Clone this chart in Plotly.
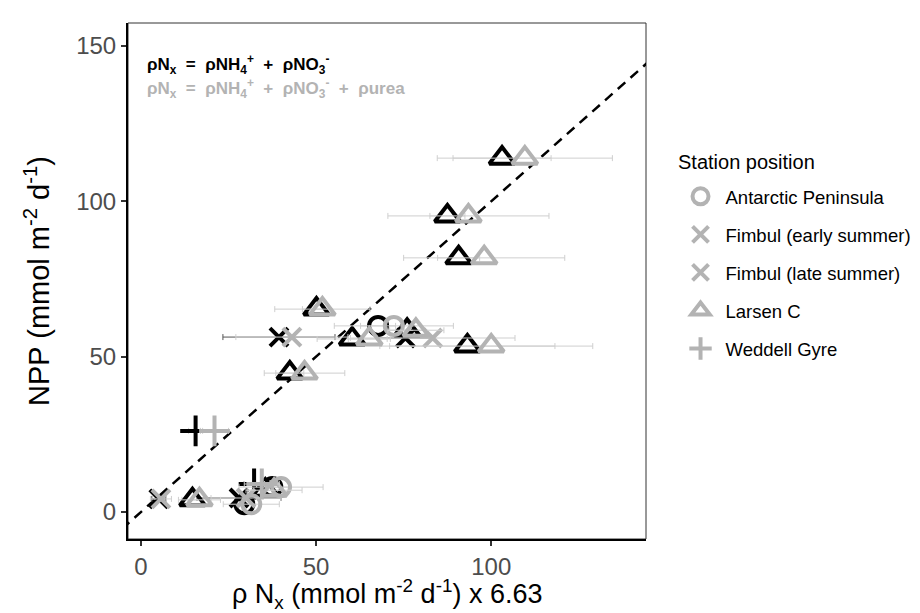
import plotly.graph_objects as go

# ---- data ----
station = ["Larsen C", "Larsen C", "Larsen C", "Larsen C", "Fimbul (early summer)",
           "Larsen C", "Antarctic Peninsula", "Larsen C", "Fimbul (late summer)", "Larsen C",
           "Larsen C", "Weddell Gyre", "Fimbul (early summer)", "Larsen C", "Fimbul (late summer)",
           "Antarctic Peninsula", "Weddell Gyre", "Larsen C", "Antarctic Peninsula"]
npp = [113.9, 95.3, 81.8, 65.3, 56.3, 55.7, 59.9, 58.5, 56.0, 53.4,
       44.7, 26.1, 4.2, 3.9, 4.5, 2.5, 9.0, 7.0, 8.0]
rho_nx = [103.1, 87.5, 90.7, 50.1, 39.4, 60.3, 67.7, 76.0, 75.5, 93.2,
          42.5, 15.6, 5.1, 14.7, 28.0, 29.5, 32.3, 35.5, 37.5]
rho_nx_err = [14, 5, 6, 4, 16, 10, 5, 5, 8, 25,
              4, 2, 2, 3, 12, 3, 3, 5, 5]
rho_nx_urea = [109.6, 93.5, 98.0, 51.8, 43.1, 65.2, 72.2, 78.5, 83.3, 100.0,
               46.7, 21.0, 5.7, 16.7, 30.0, 31.5, 34.5, 38.0, 40.0]
rho_nx_urea_err = [25, 23, 23, 13.6, 16, 6, 17, 8, 23.5, 29,
                   11.5, 4, 3, 6, 10, 8, 5, 8, 12]
stations_order = ["Antarctic Peninsula", "Fimbul (early summer)", "Fimbul (late summer)",
                  "Larsen C", "Weddell Gyre"]
one_to_one = [-20, 200]

symbols = {"Antarctic Peninsula": "circle-open",
           "Fimbul (early summer)": "x-thin-open",
           "Fimbul (late summer)": "x-thin-open",
           "Larsen C": "triangle-up-open",
           "Weddell Gyre": "cross-thin-open"}
sizes = {"Antarctic Peninsula": 18, "Fimbul (early summer)": 18,
         "Fimbul (late summer)": 18, "Larsen C": 22, "Weddell Gyre": 22}

BLACK = "#000000"
GREY = "#b3b3b3"
ERR = "#cfcfcf"
ERR_DARK = "#555555"

fig = go.Figure()

# 1:1 line
fig.add_trace(go.Scatter(x=one_to_one, y=one_to_one, mode="lines",
                         line=dict(color="black", width=2.5, dash="10px,7px"),
                         showlegend=False, hoverinfo="skip"))

def add_series(xv, ev, color, show, dark_fimbul):
    for s in stations_order:
        idx = [i for i, st in enumerate(station) if st == s]
        ecol = ERR_DARK if (dark_fimbul and s.startswith("Fimbul")) else ERR
        fig.add_trace(go.Scatter(
            x=[xv[i] for i in idx], y=[npp[i] for i in idx], mode="markers",
            name=s, legendgroup=s, showlegend=show,
            error_x=dict(type="data", array=[ev[i] for i in idx], color=ecol,
                         thickness=1, width=3),
            marker=dict(symbol=symbols[s], size=sizes[s], color=color,
                        line=dict(color=color, width=4))))

add_series(rho_nx, rho_nx_err, BLACK, False, True)
add_series(rho_nx_urea, rho_nx_urea_err, GREY, True, False)

FONT = "Liberation Sans, Arial, sans-serif"
SP = "&nbsp;&nbsp;"

line1 = f"<b>ρN<sub>x</sub>{SP}={SP}ρNH<sub>4</sub><sup>+</sup>{SP}+{SP}ρNO<sub>3</sub><sup>-</sup></b>"
line2 = (f"<b>ρN<sub>x</sub>{SP}={SP}ρNH<sub>4</sub><sup>+</sup>{SP}+{SP}ρNO<sub>3</sub><sup>-</sup>"
         f"{SP}+{SP}ρurea</b>")

fig.update_layout(
    width=920, height=613,
    margin=dict(l=120, r=278, t=15, b=82),
    plot_bgcolor="white", paper_bgcolor="white",
    font=dict(family=FONT, color="black"),
    xaxis=dict(range=[-3.7, 144.2], tickvals=[0, 50, 100], showgrid=False, zeroline=False,
               showline=True, linecolor="black", linewidth=2, mirror=False,
               ticks="outside", ticklen=5, tickcolor="#333", tickwidth=1.5,
               tickfont=dict(size=24, color="#4d4d4d", family=FONT)),
    yaxis=dict(range=[-8.7, 157.4], tickvals=[0, 50, 100, 150], showgrid=False, zeroline=False,
               showline=True, linecolor="black", linewidth=2, mirror=False,
               ticks="outside", ticklen=5, tickcolor="#333", tickwidth=1.5,
               tickfont=dict(size=24, color="#4d4d4d", family=FONT),
               title=dict(text="NPP (mmol m<sup>-2</sup> d<sup>-1</sup>)",
                          font=dict(size=29, color="black", family=FONT), standoff=18)),
    legend=dict(x=1.057, xanchor="left", y=0.70, yanchor="top",
                font=dict(size=18.5, family=FONT), tracegroupgap=11, itemwidth=40),
    shapes=[dict(type="rect", xref="paper", yref="paper", x0=0, x1=1, y0=0, y1=1,
                 line=dict(color="#333", width=1), fillcolor="rgba(0,0,0,0)", layer="below")],
    annotations=[
        dict(xref="paper", yref="paper", x=0.033, y=0.92, xanchor="left", yanchor="middle",
             showarrow=False, font=dict(size=17, color="black", family=FONT), text=line1),
        dict(xref="paper", yref="paper", x=0.033, y=0.874, xanchor="left", yanchor="middle",
             showarrow=False, font=dict(size=17, color=GREY, family=FONT), text=line2),
        dict(xref="paper", yref="paper", x=0.5, y=-0.106, xanchor="center", yanchor="middle",
             showarrow=False, font=dict(size=27, color="black", family=FONT),
             text="ρ N<sub>x</sub> (mmol m<sup>-2</sup> d<sup>-1</sup>) x 6.63"),
        dict(xref="paper", yref="paper", x=1.0575, y=0.73, xanchor="left", yanchor="middle",
             showarrow=False, font=dict(size=20, color="black", family=FONT),
             text="Station position"),
    ],
)

fig.write_html("out.html")
